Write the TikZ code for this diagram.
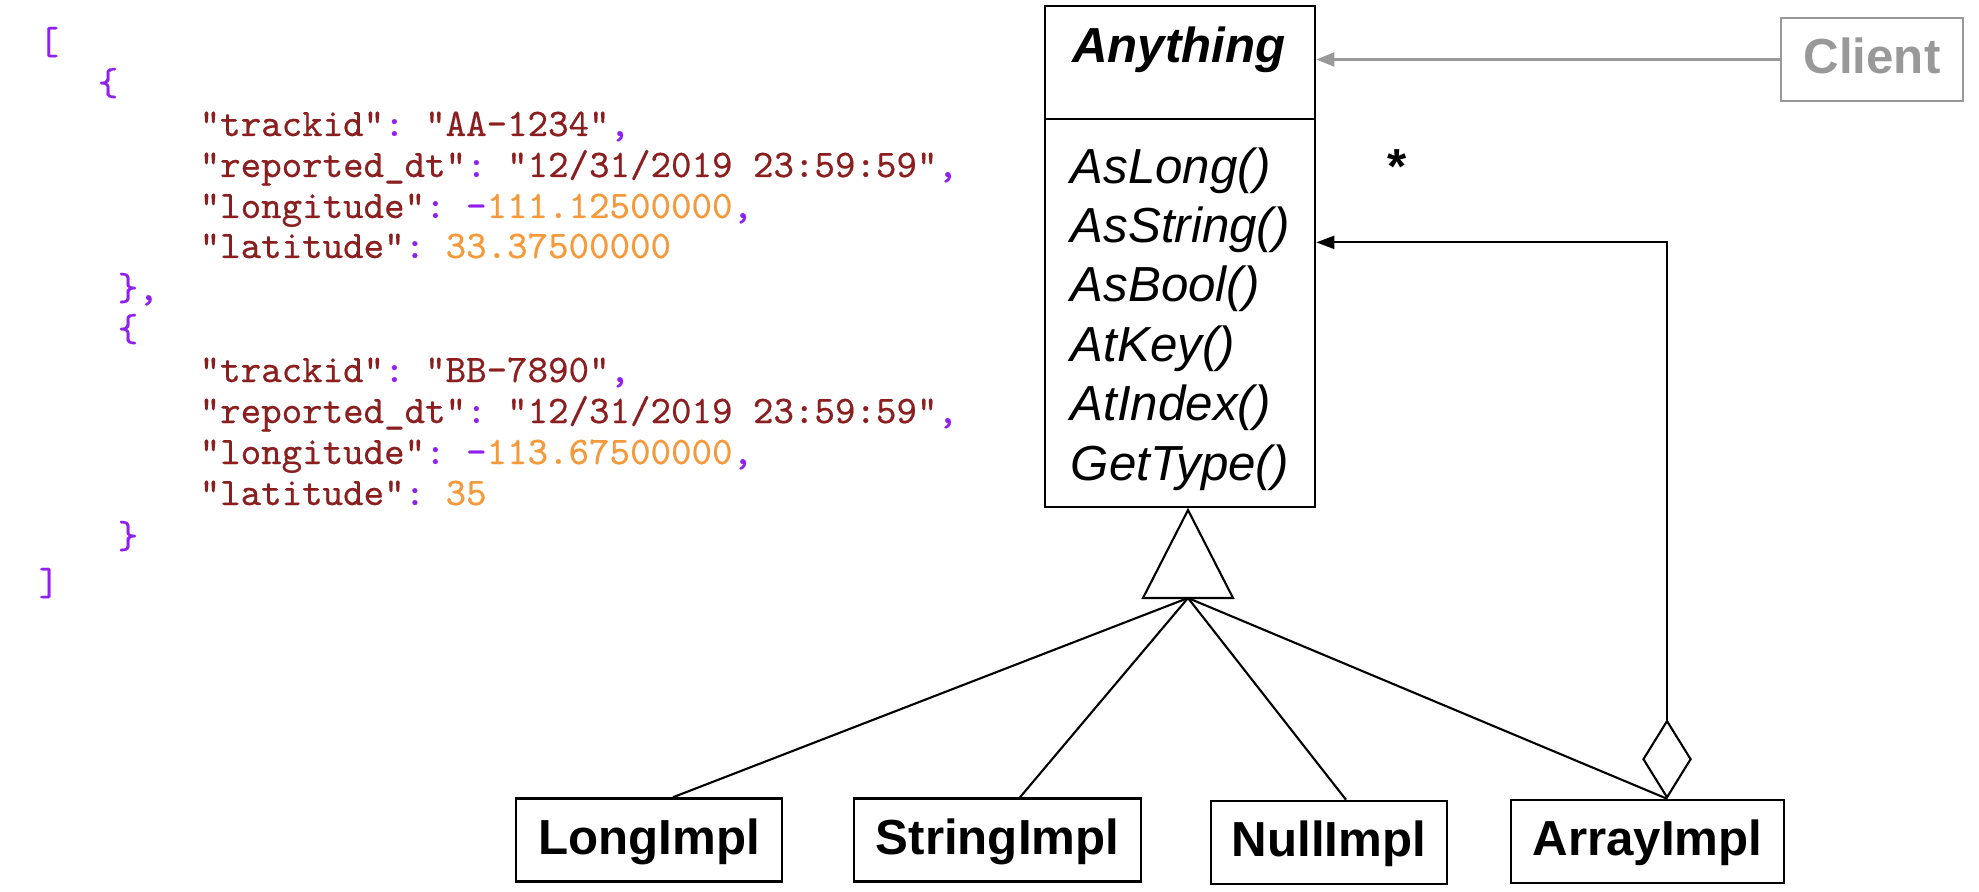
\documentclass[tikz,border=0pt]{standalone}
\usepackage{fontspec}
\setmainfont{Liberation Sans}
\newfontfamily\jsonfont[FakeBold=0.5]{lmmono10-regular.otf}
\usetikzlibrary{arrows.meta, shapes.geometric}

\definecolor{jsonpunct}{HTML}{9020F0}
\definecolor{jsonkey}{HTML}{8B1E1E}
\definecolor{jsonnum}{HTML}{F59A3C}
\definecolor{clientgray}{HTML}{999999}

% colour helpers for the json listing
\newcommand{\jp}[1]{\textcolor{jsonpunct}{#1}}
\newcommand{\jk}[1]{\textcolor{jsonkey}{#1}}
\newcommand{\jn}[1]{\textcolor{jsonnum}{#1}}

\tikzset{
  json/.style={anchor=base west, inner sep=0pt, font=\jsonfont\fontsize{11.1}{13}\selectfont\frenchspacing},
  classbox/.style={draw, line width=0.7pt, inner sep=0pt},
  classline/.style={line width=0.7pt},
  implbox/.style={draw, line width=0.7pt, minimum height=0.83cm, text height=0.8em, text depth=0pt, inner sep=0pt, font=\fontsize{14}{16}\selectfont\bfseries},
  method/.style={anchor=base west, inner sep=0pt, font=\fontsize{14}{16}\selectfont\itshape},
  umlline/.style={line width=0.6pt},
  aggdiamond/.style={diamond, draw, line width=0.6pt, fill=white, inner sep=0pt, minimum width=0.48cm, minimum height=0.77cm, anchor=south},
}

\begin{document}
\begin{tikzpicture}[x=0.01cm, y=-0.01cm] % one unit is one pixel of the reference
  \useasboundingbox (0,0) rectangle (1979,891);

  % json sample on the left
  \node[json] (j1) at (38,54) {\jp{[}};
  \node[json] (j2) at (97,95) {\jp{\{}};
  \node[json] (j3) at (199,136) {\jk{"trackid"}\jp{: }\jk{"AA-1234"}\jp{,}};
  \node[json] (j4) at (199,177) {\jk{"reported\_dt"}\jp{: }\jk{"12/31/2019 23:59:59"}\jp{,}};
  \node[json] (j5) at (199,218) {\jk{"longitude"}\jp{: -}\jn{111.12500000}\jp{,}};
  \node[json] (j6) at (199,258) {\jk{"latitude"}\jp{: }\jn{33.37500000}};
  \node[json] (j7) at (117,300) {\jp{\},}};
  \node[json] (j8) at (117,341) {\jp{\{}};
  \node[json] (j9) at (199,382) {\jk{"trackid"}\jp{: }\jk{"BB-7890"}\jp{,}};
  \node[json] (j10) at (199,423) {\jk{"reported\_dt"}\jp{: }\jk{"12/31/2019 23:59:59"}\jp{,}};
  \node[json] (j11) at (199,464) {\jk{"longitude"}\jp{: -}\jn{113.67500000}\jp{,}};
  \node[json] (j12) at (199,505) {\jk{"latitude"}\jp{: }\jn{35}};
  \node[json] (j13) at (117,548) {\jp{\}}};
  \node[json] (j14) at (38,595) {\jp{]}};

  % the abstract class
  \node[classbox, minimum width=2.70cm, minimum height=5.01cm] (anything) at (1180,256.5) {};
  \draw[classline] (anything.west |- 0,119) -- (anything.east |- 0,119);
  \node[anchor=base, inner sep=0pt, font=\fontsize{14}{16}\selectfont\bfseries\itshape] (anyname) at (1179,63) {Anything};
  \foreach \m [count=\i] in {AsLong(), AsString(), AsBool(), AtKey(), AtIndex(), GetType()}
    \node[method] (m\i) at (1070, {183+59.4*(\i-1)}) {\m};

  % multiplicity
  \node[anchor=base, inner sep=0pt, font=\fontsize{14}{16}\selectfont\bfseries] (mult) at (1397,183) {*};

  % client
  \node[implbox, draw=clientgray, text=clientgray, minimum width=1.82cm] (client) at (1872,59.5) {Client};
  \draw[umlline, clientgray, -{Triangle[length=0.18cm, width=0.14cm]}] (client.west) -- (anything.east |- client.west);

  % implementations
  \node[implbox, minimum width=2.66cm] (long) at (649,840) {LongImpl};
  \node[implbox, minimum width=2.87cm] (string) at (997.5,840) {StringImpl};
  \node[implbox, minimum width=2.36cm] (null) at (1329,842.5) {NullImpl};
  \node[implbox, minimum width=2.73cm] (array) at (1647.5,841.5) {ArrayImpl};

  % generalization
  \coordinate (tip) at (1188,510);
  \draw[umlline, fill=white] (tip) -- ++(45,88) -- ++(-90,0) -- cycle;
  \coordinate (fork) at (1188,598);
  \foreach \b/\dx in {long/0.24, string/0.225, null/0.17, array/0.195}
    \draw[umlline] (fork) -- ([xshift=\dx cm]\b.north);

  % aggregation back to the class
  \node[aggdiamond] (agg) at ([xshift=0.195cm]array.north) {};
  \draw[umlline, -{Triangle[length=0.18cm, width=0.13cm]}] (agg.north) |- (anything.east |- m2.base);
\end{tikzpicture}
\end{document}
